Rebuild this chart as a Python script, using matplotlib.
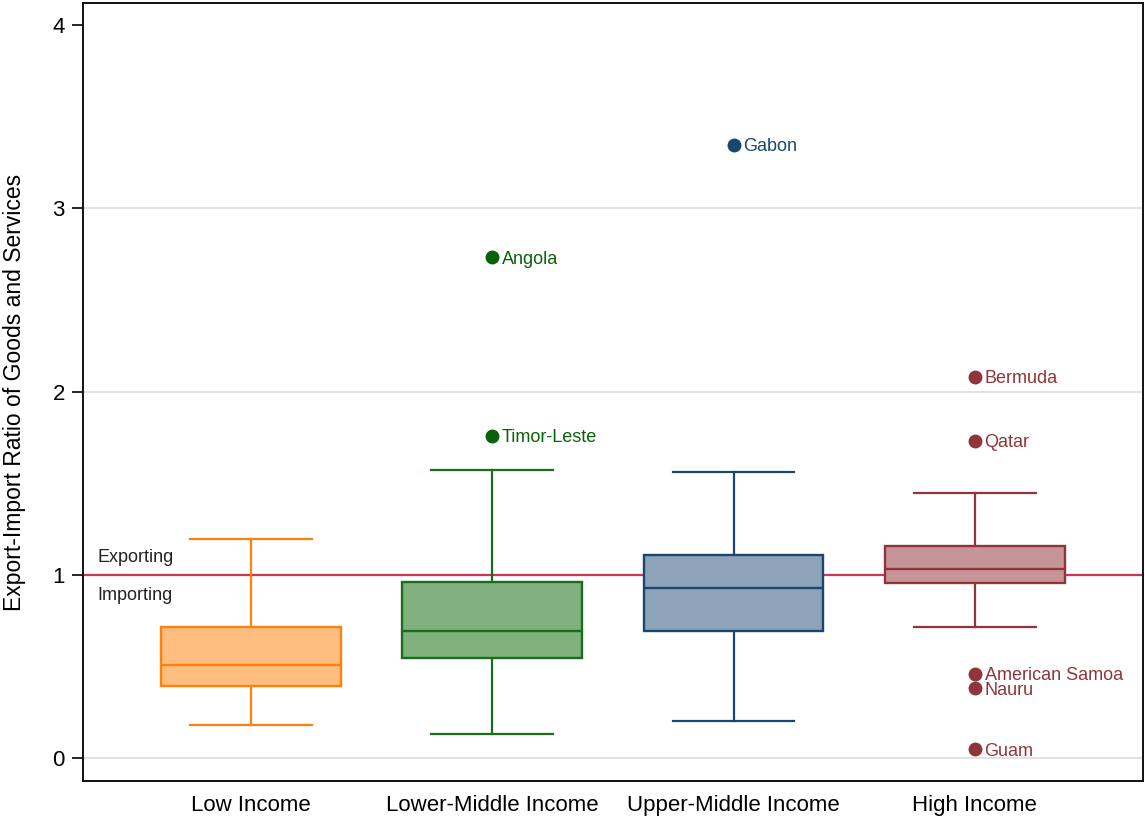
import matplotlib
matplotlib.use("Agg")
import matplotlib.pyplot as plt
import matplotlib.transforms as mtransforms

plt.rcParams['font.family'] = ['Liberation Sans', 'DejaVu Sans']

# summary stats
groups = ["Low Income", "Lower-Middle Income", "Upper-Middle Income", "High Income"]
whisk_lo = [0.182, 0.133, 0.205, 0.713]
q1 = [0.396, 0.546, 0.694, 0.955]
med = [0.509, 0.694, 0.927, 1.033]
q3 = [0.718, 0.961, 1.109, 1.158]
whisk_hi = [1.196, 1.573, 1.562, 1.447]

# labelled outliers: (group index, value, name)
outlier_grp = [1, 1, 2, 3, 3, 3, 3, 3]
outlier_val = [2.733, 1.758, 3.346, 2.081, 1.732, 0.460, 0.382, 0.049]
outlier_name = ["Angola", "Timor-Leste", "Gabon", "Bermuda", "Qatar",
                "American Samoa", "Nauru", "Guam"]

edge_cols = ["#ff800e", "#1a6e1a", "#1a476f", "#90353b"]
fill_cols = ["#ffbd7f", "#80b07e", "#8ca3b8", "#c79598"]
dot_cols = ["#ff800e", "#0b600b", "#1a476f", "#90353b"]

fig = plt.figure(figsize=(11.45, 8.18), dpi=100)
ax = fig.add_axes([0.0725, 0.0452, 0.9255, 0.9511])

# grid + reference line
for g in [0, 2, 3]:
    ax.axhline(g, color="#dddddd", lw=1.2, zorder=0)
ax.axhline(1, color="#c8365a", lw=1.6, zorder=1)

for i, name in enumerate(groups):
    st = [dict(whislo=whisk_lo[i], q1=q1[i], med=med[i], q3=q3[i],
               whishi=whisk_hi[i], fliers=[], label=name)]
    ax.bxp(st, positions=[i + 1], widths=0.745, patch_artist=True,
           showfliers=False, manage_ticks=False,
           boxprops=dict(facecolor=fill_cols[i], edgecolor=edge_cols[i], linewidth=1.7, zorder=3),
           medianprops=dict(color=edge_cols[i], linewidth=1.7, zorder=4),
           whiskerprops=dict(color=edge_cols[i], linewidth=1.6, zorder=2),
           capprops=dict(color=edge_cols[i], linewidth=1.6, zorder=2),
           capwidths=0.505)

for g, v, n in zip(outlier_grp, outlier_val, outlier_name):
    ax.plot(g + 1, v, "o", color=dot_cols[g], ms=9, zorder=5)
    ax.annotate(n, (g + 1, v), xytext=(7, 0), textcoords="offset points",
                va="center_baseline", ha="left", fontsize=13, color=dot_cols[g])

trans = mtransforms.blended_transform_factory(ax.transAxes, ax.transData)
ax.text(0.0132, 1.093, "Exporting", transform=trans, fontsize=13, va="center", color="#222222")
ax.text(0.0132, 0.89, "Importing", transform=trans, fontsize=13, va="center", color="#222222")

ax.set_xlim(0.304, 4.696)
ax.set_ylim(-0.125, 4.12)
ax.set_xticks(range(1, 5))
ax.set_xticklabels(groups, fontsize=16)
ax.tick_params(axis="x", length=0, pad=10)
ax.set_yticks([0, 1, 2, 3, 4])
ax.tick_params(axis="y", labelsize=16, length=8, width=1.2, pad=5)
ax.set_ylabel("Export-Import Ratio of Goods and Services", fontsize=16.5)
ax.yaxis.set_label_coords(-0.054, 0.5)

for s in ax.spines.values():
    s.set_linewidth(1.4)
    s.set_color("#111111")

fig.savefig("out.png", dpi=100)
